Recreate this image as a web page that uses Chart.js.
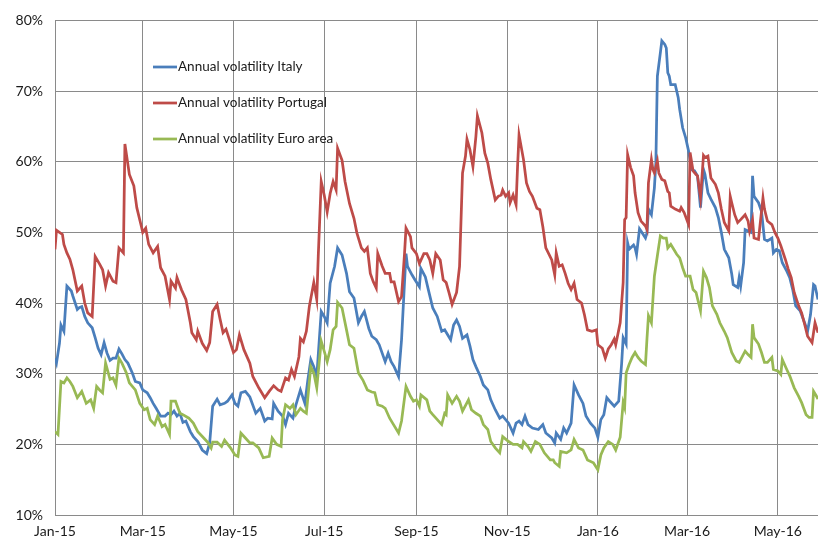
<!DOCTYPE html>
<html>
<head>
<meta charset="utf-8">
<script src="https://cdn.jsdelivr.net/npm/chart.js@4"></script>
<style>
  html, body { margin: 0; padding: 0; background: #fff; }
  #wrap { width: 818px; height: 543px; }
</style>
</head>
<body>
<div id="wrap"><canvas id="chart" width="818" height="543"></canvas></div>
<script>
// x values are days since 1 Jan 2015
const tickDays = [0, 59, 120, 181, 243, 304, 365, 425, 486];
const tickLabels = ['Jan-15', 'Mar-15', 'May-15', 'Jul-15', 'Sep-15', 'Nov-15', 'Jan-16', 'Mar-16', 'May-16'];

const italyDays = [0,1,3,4,6,8,11,12,15,16,18,20,22,25,27,29,31,33,35,37,39,41,43,45,47,49,52,54,57,59,62,64,66,68,71,74,76,78,80,82,84,86,88,91,93,96,99,102,104,106,109,111,114,116,119,121,123,125,128,131,
  135,138,141,143,146,147,150,153,155,157,160,162,165,168,170,172,174,176,179,181,183,185,188,190,193,196,198,201,204,206,208,211,213,216,218,222,224,226,228,231,233,236,237,240,242,245,246,249,251,
  254,257,260,262,264,266,268,270,272,274,277,279,281,283,286,288,291,293,296,299,301,305,308,310,312,314,316,318,321,325,328,330,334,336,337,340,342,344,347,349,352,355,357,360,363,365,367,369,371,373,376,379,
  381,382,384,385,386,389,390,391,393,394,397,398,399,401,403,404,405,407,408,410,411,412,413,414,417,419,420,422,424,426,428,430,432,434,436,437,439,441,444,446,448,450,453,455,456,459,460,461,463,464,466,468,469,470,473,475,477,479,482,483,485,487,489,492,494,496,498,501,504,506,508,510,511,513];
const italyValues = [32.2,31.5,34.3,36.9,36.0,42.4,41.7,41.0,39.1,39.3,39.5,38.1,37.2,36.5,35.1,33.6,32.7,34.4,32.9,31.9,32.2,32.2,33.5,32.8,32.0,31.5,30.1,28.9,28.7,27.7,27.3,26.6,25.8,25.1,24.0,24.0,24.4,24.2,24.7,24.0,24.4,23.1,23.3,21.8,21.1,20.4,19.2,18.7,20.2,25.4,26.4,25.6,25.8,26.1,27.0,25.8,25.4,27.3,27.5,26.7,
  24.4,25.1,23.3,23.7,23.6,25.8,24.7,24.0,22.8,24.4,23.7,25.6,27.7,25.8,29.1,32.0,31.0,29.6,38.8,38.1,37.2,42.8,45.2,47.8,46.8,44.2,41.6,40.7,37.2,38.1,38.8,36.4,35.3,34.8,34.1,31.7,32.9,31.7,31.0,29.6,34.8,47.0,45.2,44.0,43.3,42.3,44.9,43.7,41.9,
  39.3,38.1,36.0,36.2,35.5,34.8,36.9,37.6,36.7,35.0,35.5,33.9,32.0,31.0,29.6,28.4,27.7,26.3,24.9,23.7,24.0,23.0,21.6,23.0,23.3,22.8,24.0,22.8,22.3,22.1,22.8,21.6,20.9,20.2,21.6,20.7,22.3,21.6,23.0,28.4,27.0,25.8,24.0,23.0,22.3,21.0,23.5,24.2,26.6,26.1,25.4,26.1,
  31.5,35.1,34.2,48.5,47.6,48.2,47.8,46.9,50.5,50.2,49.2,49.9,53.3,52.5,56.3,59.9,72.1,75.4,77.1,76.6,76.1,72.6,72.1,70.9,70.9,69.1,67.4,64.8,63.4,61.5,58.9,58.7,58.0,53.5,58.9,58.2,55.6,54.7,53.5,52.1,50.0,47.6,46.4,44.1,42.6,42.2,43.6,42.4,45.7,50.4,50.2,50.0,58.0,55.1,54.2,53.0,49.0,48.8,49.2,47.1,47.6,47.4,45.7,44.5,43.6,41.9,39.6,38.9,37.2,36.0,38.4,42.6,42.4,40.5];

const portugalDays = [0,1,3,5,6,8,10,12,15,18,20,22,25,27,30,32,34,36,39,41,43,46,47,50,53,55,58,59,61,63,66,69,71,74,77,78,81,82,85,88,91,92,95,96,99,102,104,106,109,111,113,115,120,122,124,127,131,
  133,137,141,144,147,150,152,155,157,159,161,164,165,167,169,171,174,176,177,179,181,183,185,187,189,190,193,195,198,201,203,206,208,210,212,214,216,217,220,222,225,226,228,231,233,235,236,239,240,243,245,248,250,252,254,
  256,259,261,263,265,267,270,272,274,276,277,279,281,283,284,287,289,291,293,296,298,300,301,303,305,306,308,310,311,312,315,317,319,321,324,326,328,330,334,336,337,339,341,343,345,347,349,351,354,356,358,361,364,365,368,370,372,374,376,377,
  380,382,383,384,385,387,389,390,392,394,397,398,399,401,402,403,405,406,408,410,412,413,414,417,420,421,423,426,427,429,431,432,434,436,437,439,441,444,446,448,450,453,454,455,457,459,461,464,466,467,469,470,473,476,477,479,482,484,486,488,491,493,495,497,500,502,504,506,509,511,513];
const portugalValues = [47.6,50.3,50.0,49.7,48.3,47.1,46.2,44.7,41.7,42.4,40.0,38.6,38.1,46.6,45.5,44.7,42.4,44.3,43.1,42.9,47.8,47.1,62.5,58.2,56.6,53.5,50.9,50.0,50.6,48.3,47.1,48.0,45.0,43.8,40.5,43.1,42.1,43.6,41.9,40.5,37.2,35.8,34.8,36.0,34.3,33.3,34.4,38.8,39.8,37.7,35.8,36.3,33.0,33.4,35.5,33.4,31.5,
  29.6,28.0,26.6,27.5,28.3,27.7,27.5,29.4,29.1,30.6,29.6,32.4,35.0,34.5,36.0,39.5,42.9,40.5,46.6,57.2,55.3,52.9,55.5,57.2,56.0,61.9,60.2,57.2,54.1,52.0,49.9,47.8,47.3,47.8,44.2,43.0,42.1,47.0,45.2,44.2,44.2,43.0,43.0,40.2,40.9,47.0,50.6,49.4,47.8,47.0,45.6,47.0,47.0,46.1,44.2,
  47.0,46.1,43.3,42.9,41.4,39.8,41.5,45.2,58.4,60.8,63.2,61.7,59.3,63.6,66.5,64.1,61.2,59.8,57.5,54.6,55.1,55.3,56.0,55.1,55.6,54.2,55.3,53.9,59.3,63.8,60.3,57.0,55.8,55.1,53.4,53.2,50.8,47.8,46.1,44.0,47.1,45.2,45.4,44.2,42.8,41.9,42.8,40.5,40.0,38.3,36.2,36.0,36.2,34.1,33.6,32.2,33.5,34.1,34.9,34.1,
  37.2,42.9,51.8,52.1,61.0,59.2,58.0,55.6,52.8,51.6,50.9,50.4,57.0,60.3,58.9,58.4,60.1,58.4,57.5,57.3,55.8,55.6,53.7,53.3,53.0,53.5,52.8,51.1,61.3,58.7,58.2,58.0,54.9,60.9,60.6,60.8,57.7,56.8,55.6,53.3,51.4,50.2,55.1,54.2,52.5,51.4,51.8,52.5,51.6,50.2,51.8,49.2,49.0,54.9,53.3,51.6,51.1,50.0,49.2,48.1,46.2,44.8,43.6,41.5,39.6,38.6,37.0,35.3,34.4,37.2,35.8];

const euroDays = [0,2,4,6,8,10,12,15,18,21,24,26,28,30,32,34,37,39,41,43,45,48,50,54,57,60,62,64,67,69,72,74,77,78,81,84,86,90,93,96,100,103,105,106,109,112,114,118,121,123,125,128,131,
  133,137,140,144,146,149,152,153,155,158,160,162,165,167,169,172,174,176,179,181,183,185,187,189,190,193,196,198,201,204,207,210,213,215,217,220,222,225,227,231,233,236,239,241,243,245,246,250,252,254,
  260,262,263,264,267,270,272,274,278,280,283,286,288,291,293,296,299,301,305,308,311,314,315,318,320,323,326,329,333,335,336,339,340,344,347,349,352,355,358,362,365,367,369,372,375,377,
  380,382,383,384,386,388,390,392,394,397,398,399,401,402,403,405,407,409,411,412,414,416,418,420,422,424,427,429,431,434,436,438,440,442,445,447,450,452,455,458,460,461,464,466,468,469,470,473,475,477,479,482,483,486,488,489,492,494,497,500,502,505,507,509,510,512,513];
const euroValues = [21.8,21.4,28.9,28.7,29.4,28.9,28.2,26.6,27.5,25.8,26.3,25.1,28.2,27.7,27.3,31.5,29.2,29.4,28.4,32.2,31.5,30.1,28.7,27.7,25.8,24.9,25.1,23.5,22.8,24.0,22.5,22.8,21.4,26.1,26.1,24.4,24.2,23.7,23.0,21.8,20.9,20.2,19.5,20.3,20.3,19.7,20.6,19.5,18.5,18.3,21.6,20.9,20.2,
  20.2,19.5,18.1,18.3,20.9,20.0,19.7,23.5,25.6,25.1,25.6,24.2,25.1,24.7,24.4,31.0,30.1,28.0,34.6,33.2,31.7,33.4,36.2,36.7,40.1,39.3,36.2,34.1,33.6,30.1,29.1,27.7,27.4,27.3,25.6,25.4,25.1,23.7,23.0,21.6,23.3,28.2,26.8,26.1,26.3,25.4,27.0,26.3,24.7,24.2,
  22.8,24.4,24.2,27.0,25.8,26.8,26.1,24.7,26.3,24.9,24.4,24.0,22.8,22.1,20.4,19.5,18.8,21.1,20.4,20.0,20.0,19.5,20.4,19.7,19.0,20.4,20.0,18.8,17.8,17.8,17.4,16.9,19.0,18.8,19.2,20.7,19.5,19.2,17.8,17.4,16.4,18.5,19.5,20.4,20.0,19.2,
  21.0,25.9,25.2,30.1,31.3,32.3,33.0,32.3,31.8,31.3,34.9,38.2,37.2,40.5,43.8,46.7,49.5,49.2,49.2,47.8,48.3,47.6,46.9,46.4,45.0,43.8,43.8,41.9,41.5,38.9,44.5,43.6,42.2,39.6,38.4,37.2,36.0,35.1,33.0,31.8,31.6,32.0,33.2,32.7,32.3,37.0,35.1,34.2,33.0,31.6,31.6,32.3,30.6,30.4,29.9,32.0,30.6,29.7,28.0,26.8,25.9,24.2,23.8,23.8,27.5,26.8,26.4];

const toPoints = (days, values) => days.map((d, i) => ({ x: d, y: values[i] }));

const gridColor = '#8a8a8a';
const textColor = '#1a1a1a';
const fontFamily = 'Lato, "Liberation Sans", sans-serif';

// legend drawn inside the plot area, like the original
const insideLegend = {
    id: 'insideLegend',
    afterDatasetsDraw(chart) {
        const ctx = chart.ctx;
        ctx.save();
        ctx.font = '13.5px ' + fontFamily;
        ctx.textBaseline = 'middle';
        ctx.fillStyle = textColor;
        chart.data.datasets.forEach((ds, i) => {
            const y = 67 + i * 36;
            ctx.strokeStyle = ds.borderColor;
            ctx.lineWidth = 2.75;
            ctx.beginPath();
            ctx.moveTo(153, y);
            ctx.lineTo(177, y);
            ctx.stroke();
            ctx.fillText(ds.label, 178, y);
        });
        ctx.restore();
    }
};

new Chart(document.getElementById('chart').getContext('2d'), {
    type: 'line',
    data: {
        datasets: [
            {
                label: 'Annual volatility Italy',
                data: toPoints(italyDays, italyValues),
                borderColor: '#4a7ebb',
                order: 3
            },
            {
                label: 'Annual volatility Portugal',
                data: toPoints(portugalDays, portugalValues),
                borderColor: '#be4b48',
                order: 2
            },
            {
                label: 'Annual volatility Euro area',
                data: toPoints(euroDays, euroValues),
                borderColor: '#98b954',
                order: 1
            }
        ]
    },
    options: {
        responsive: false,
        animation: false,
        devicePixelRatio: 1,
        elements: {
            line: { borderWidth: 2.75, tension: 0, fill: false },
            point: { radius: 0, hoverRadius: 0 }
        },
        layout: { padding: { top: 20, left: 0, right: 0, bottom: 0 } },
        plugins: {
            legend: { display: false },
            tooltip: { enabled: false }
        },
        scales: {
            x: {
                type: 'linear',
                min: 0,
                max: 513,
                afterBuildTicks: (scale) => {
                    scale.ticks = tickDays.map(v => ({ value: v }));
                },
                afterFit: (scale) => { scale.height = 28; },
                ticks: {
                    autoSkip: false,
                    maxRotation: 0,
                    padding: 8,
                    color: textColor,
                    font: { family: fontFamily, size: 14 },
                    callback: (v) => tickLabels[tickDays.indexOf(v)]
                },
                grid: { color: gridColor, drawTicks: false },
                border: { color: gridColor }
            },
            y: {
                min: 10,
                max: 80,
                afterFit: (scale) => { scale.width = 55; },
                ticks: {
                    stepSize: 10,
                    padding: 12,
                    color: textColor,
                    font: { family: fontFamily, size: 14 },
                    callback: (v) => v + '%'
                },
                grid: { color: gridColor, drawTicks: false },
                border: { color: gridColor }
            }
        }
    },
    plugins: [insideLegend]
});
</script>
</body>
</html>
